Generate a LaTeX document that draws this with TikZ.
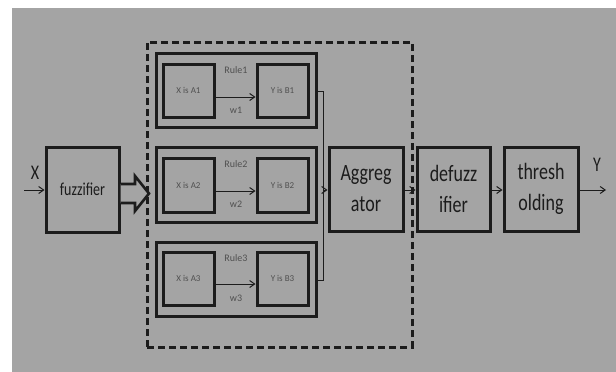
\documentclass[tikz,border=0pt]{standalone}
\usepackage{fontspec}
\usepackage{graphicx}
\setmainfont{Carlito}
\usetikzlibrary{arrows.meta}
\definecolor{bg}{HTML}{A4A4A4}
\definecolor{ink}{HTML}{1C1C1C}
\definecolor{faint}{HTML}{505050}
\newcommand{\vst}[1]{\scalebox{1}[1.3]{#1}}
\tikzset{
  blk/.style={draw=ink, line width=3pt, minimum width=74pt, minimum height=84pt, inner sep=0pt, text=ink, font=\fontsize{18}{22}\selectfont, align=center},
  rulebox/.style={draw=ink, line width=3pt, minimum width=160pt, minimum height=74pt, inner sep=0pt},
  inbox/.style={draw=ink, line width=3pt, minimum width=51pt, minimum height=53pt, inner sep=0pt, text=faint, font=\fontsize{9}{10}\selectfont},
  lbl/.style={text=faint, font=\fontsize{10}{11}\selectfont, inner sep=0pt},
  conn/.style={draw=ink, line width=1pt},
  arr/.style={conn, -{Straight Barb[length=5pt,width=7pt]}},
  grpbox/.style={draw=ink, line width=3pt, dash pattern=on 7pt off 4pt, minimum width=265pt, minimum height=305pt, inner sep=0pt}
}
\begin{document}
\begin{tikzpicture}[x=1pt,y=-1pt]
\useasboundingbox (0,0) rectangle (616,372);
\fill[white] (0,0) rectangle (616,372);
\fill[bg] (12,8) rectangle (616,372);

\node[grpbox] (grp) at (279.5,194.5) {};

\node[blk, minimum width=73pt, minimum height=85pt, font=\fontsize{14}{16}\selectfont] (fuz) at (82.5,189.5) {\vst{fuzzifier}};

\node[rulebox] (r1) at (236,90) {};
\node[rulebox, minimum height=75pt] (r2) at (236,184.5) {};
\node[rulebox] (r3) at (236,279) {};

\node[inbox] (a1) at (188.5,90.5) {X is A1};
\node[inbox] (b1) at (282.5,90.5) {Y is B1};
\node[inbox, minimum height=54pt] (a2) at (188.5,185) {X is A2};
\node[inbox, minimum height=54pt] (b2) at (282.5,185) {Y is B2};
\node[inbox] (a3) at (188.5,278.5) {X is A3};
\node[inbox] (b3) at (282.5,278.5) {Y is B3};

\draw[arr] ([yshift=-6.5pt]a1.east) -- ([yshift=-6.5pt]b1.west);
\draw[arr] ([yshift=-6pt]a2.east) -- ([yshift=-6pt]b2.west);
\draw[arr] ([yshift=-5.5pt]a3.east) -- ([yshift=-5.5pt]b3.west);

\node[lbl] (l1) at (236,70) {Rule1};
\node[lbl] (w1) at (236,110) {w1};
\node[lbl] (l2) at (236,164) {Rule2};
\node[lbl] (w2) at (236,204) {w2};
\node[lbl] (l3) at (236,258) {Rule3};
\node[lbl] (w3) at (236,298) {w3};

\node[blk] (agg) at (366,189) {\vst{Aggreg}\\[9pt]\vst{ator}};
\node[blk, minimum width=73pt] (def) at (453.5,189) {\vst{defuzz}\\[9pt]\vst{ifier}};
\node[blk] (thr) at (541,189) {\vst{thresh}\\[9pt]\vst{olding}};

\coordinate (xin) at (24,190);
\coordinate (yout) at (606,190);
\coordinate (bus) at (323,190);
\node[text=ink, font=\fontsize{16}{18}\selectfont, inner sep=0pt] (xl) at (35,173) {\vst{X}};
\node[text=ink, font=\fontsize{16}{18}\selectfont, inner sep=0pt] (yl) at (597,165) {\vst{Y}};

\draw[arr] (xin) -- (fuz.west |- xin);
\draw[conn] ([yshift=-1pt]r1.east) -| (bus);
\draw[conn] ([yshift=-1pt]r3.east) -| (bus);
\draw[arr] (bus) -- (agg.west |- bus);
\draw[arr] (agg.east |- bus) -- (def.west |- bus);
\draw[arr] (def.east |- bus) -- (thr.west |- bus);
\draw[arr] (thr.east |- bus) -- (yout);

% hollow block arrow from fuzzifier to rule group
\draw[draw=ink, line width=2.6pt, line join=miter, fill=bg]
  (fuz.east |- 0,184) -- (135,184) -- (135,176) -- (149,193.5) -- (135,211) -- (135,203) -- (fuz.east |- 0,203);
\end{tikzpicture}
\end{document}
